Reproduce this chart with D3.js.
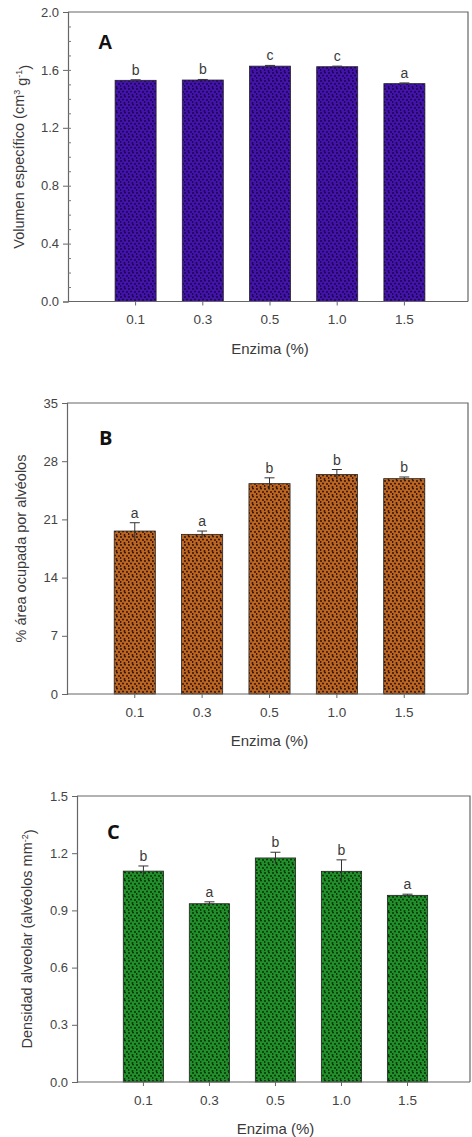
<!DOCTYPE html>
<html>
<head>
<meta charset="utf-8">
<script src="https://cdn.jsdelivr.net/npm/d3@7"></script>
<style>
  body { margin: 0; background: #fff; }
  text { font-family: "Liberation Sans", Arial, sans-serif; fill: #3a3a3a; }
</style>
</head>
<body>
<div id="chart"></div>
<script>
// Enzyme levels shared by all three panels
var enzimaLevels = ["0.1", "0.3", "0.5", "1.0", "1.5"];

// Panel A - specific volume
var volumenValues = [1.528, 1.530, 1.626, 1.622, 1.505];
var volumenErrors = [0.004, 0.004, 0.005, 0.004, 0.005];
var volumenLetters = ["b", "b", "c", "c", "a"];
var volumenTicks = [0.0, 0.4, 0.8, 1.2, 1.6, 2.0];

// Panel B - % area occupied by alveoli
var areaValues = [19.6, 19.2, 25.3, 26.4, 25.9];
var areaErrors = [1.0, 0.4, 0.7, 0.6, 0.2];
var areaLetters = ["a", "a", "b", "b", "b"];
var areaTicks = [0, 7, 14, 21, 28, 35];

// Panel C - alveolar density
var densidadValues = [1.106, 0.935, 1.175, 1.105, 0.979];
var densidadErrors = [0.027, 0.010, 0.030, 0.060, 0.006];
var densidadLetters = ["b", "a", "b", "b", "a"];
var densidadTicks = [0.0, 0.3, 0.6, 0.9, 1.2, 1.5];

var width = 472, height = 1137;

var svg = d3.select("#chart").append("svg")
  .attr("width", width)
  .attr("height", height);

var defs = svg.append("defs");

// stippled fill like the original SigmaPlot bars
function makePattern(id, base, dot) {
  var p = defs.append("pattern")
    .attr("id", id)
    .attr("patternUnits", "userSpaceOnUse")
    .attr("width", 8)
    .attr("height", 8);
  p.append("rect").attr("width", 8).attr("height", 8).attr("fill", base);
  var pts = [[1, 1], [5, 0.5], [3, 3.5], [7, 4], [0.5, 6], [4.5, 7]];
  pts.forEach(function (c) {
    p.append("circle").attr("cx", c[0]).attr("cy", c[1]).attr("r", 1).attr("fill", dot);
  });
}
makePattern("dotsA", "#4414aa", "#1a0552");
makePattern("dotsB", "#bd6622", "#301306");
makePattern("dotsC", "#22902a", "#063206");

function drawPanel(cfg) {
  var g = svg.append("g");
  var w = cfg.right - cfg.left;

  var x = d3.scaleBand()
    .domain(enzimaLevels)
    .range([cfg.left + 0.085 * w, cfg.left + 0.925 * w])
    .paddingInner(0.39)
    .paddingOuter(0.195);

  var y = d3.scaleLinear()
    .domain([cfg.ticks[0], cfg.ticks[cfg.ticks.length - 1]])
    .range([cfg.bottom, cfg.top]);

  var rows = enzimaLevels.map(function (k, i) {
    return { level: k, value: cfg.values[i], err: cfg.errors[i], letter: cfg.letters[i] };
  });

  // frame (top and right)
  g.append("path")
    .attr("d", "M" + cfg.left + "," + cfg.top + "H" + cfg.right + "V" + cfg.bottom)
    .attr("fill", "none")
    .attr("stroke", "#666")
    .attr("stroke-width", 1.2);

  // bars
  g.selectAll("rect.bar")
    .data(rows)
    .enter()
    .append("rect")
    .attr("class", "bar")
    .attr("x", function (d) { return x(d.level); })
    .attr("y", function (d) { return y(d.value); })
    .attr("width", x.bandwidth())
    .attr("height", function (d) { return y(0) - y(d.value); })
    .attr("fill", "url(#" + cfg.pattern + ")")
    .attr("stroke", "#222")
    .attr("stroke-width", 0.8);

  // error bars
  var eb = g.selectAll("g.err")
    .data(rows)
    .enter()
    .append("g")
    .attr("class", "err")
    .attr("stroke", "#333")
    .attr("stroke-width", 1);
  eb.append("line")
    .attr("x1", function (d) { return x(d.level) + x.bandwidth() / 2; })
    .attr("x2", function (d) { return x(d.level) + x.bandwidth() / 2; })
    .attr("y1", function (d) { return y(d.value - d.err); })
    .attr("y2", function (d) { return y(d.value + d.err); });
  eb.append("line")
    .attr("x1", function (d) { return x(d.level) + x.bandwidth() / 2 - 5; })
    .attr("x2", function (d) { return x(d.level) + x.bandwidth() / 2 + 5; })
    .attr("y1", function (d) { return y(d.value + d.err); })
    .attr("y2", function (d) { return y(d.value + d.err); });

  // significance letters
  g.selectAll("text.letter")
    .data(rows)
    .enter()
    .append("text")
    .attr("class", "letter")
    .attr("x", function (d) { return x(d.level) + x.bandwidth() / 2; })
    .attr("y", function (d) { return y(d.value + d.err) - 5; })
    .attr("text-anchor", "middle")
    .style("font-size", "14px")
    .text(function (d) { return d.letter; });

  // y axis
  var yAxis = g.append("g")
    .attr("transform", "translate(" + cfg.left + ",0)")
    .call(d3.axisLeft(y).tickValues(cfg.ticks).tickFormat(cfg.fmt).tickSize(5).tickPadding(4));
  yAxis.select(".domain").attr("stroke", "#666").attr("stroke-width", 1.2);
  yAxis.selectAll(".tick line").attr("stroke", "#666");
  yAxis.selectAll("text")
    .style("font-size", "13px")
    .style("fill", "#444")
    .style("font-family", "Liberation Sans, Arial, sans-serif");

  if (cfg.minor) {
    g.append("g")
      .attr("transform", "translate(" + cfg.left + ",0)")
      .call(d3.axisRight(y).tickValues(cfg.minor).tickFormat("").tickSize(3))
      .call(function (a) {
        a.select(".domain").remove();
        a.selectAll("line").attr("stroke", "#777");
      });
  }

  // x axis
  var xAxis = g.append("g")
    .attr("transform", "translate(0," + cfg.bottom + ")")
    .call(d3.axisBottom(x).tickSize(4).tickPadding(9));
  xAxis.select(".domain")
    .attr("d", "M" + cfg.left + ",0H" + cfg.right)
    .attr("stroke", "#666")
    .attr("stroke-width", 1.2);
  xAxis.selectAll(".tick line").attr("stroke", "#666");
  xAxis.selectAll("text")
    .style("font-size", "13.5px")
    .style("fill", "#444")
    .style("font-family", "Liberation Sans, Arial, sans-serif");

  // x title
  g.append("text")
    .attr("x", cfg.left + w * 0.505)
    .attr("y", cfg.bottom + 52)
    .attr("text-anchor", "middle")
    .style("font-size", "15px")
    .text("Enzima (%)");

  // y title
  var yt = g.append("text")
    .attr("transform", "translate(" + cfg.ytitleX + "," + ((cfg.top + cfg.bottom) / 2) + ") rotate(-90)")
    .attr("text-anchor", "middle")
    .style("font-size", "14.5px");
  cfg.ytitle.forEach(function (part) {
    var t = yt.append("tspan").text(part.t);
    if (part.sup) t.attr("dy", "-0.5em").style("font-size", "9px");
    if (part.down) t.attr("dy", "0.5em");
  });

  // panel letter
  g.append("text")
    .attr("x", cfg.left + cfg.labelDx)
    .attr("y", cfg.top + cfg.labelDy)
    .style("font-size", "20px")
    .style("font-weight", "bold")
    .style("font-family", cfg.labelFont)
    .style("fill", "#111")
    .text(cfg.label);
}

drawPanel({
  left: 68, right: 468, top: 12, bottom: 301.5,
  values: volumenValues, errors: volumenErrors, letters: volumenLetters,
  ticks: volumenTicks, fmt: d3.format(".1f"),
  minor: d3.range(1, 20).map(function (i) { return i / 10; }),
  pattern: "dotsA",
  ytitleX: 24,
  ytitle: [{ t: "Volumen específico (cm" }, { t: "3", sup: true }, { t: " g", down: true }, { t: "-1", sup: true }, { t: ")", down: true }],
  label: "A", labelDx: 30, labelDy: 37, labelFont: "Liberation Sans, Arial, sans-serif"
});

drawPanel({
  left: 67, right: 468, top: 403, bottom: 694,
  values: areaValues, errors: areaErrors, letters: areaLetters,
  ticks: areaTicks, fmt: d3.format("d"),
  minor: null,
  pattern: "dotsB",
  ytitleX: 26,
  ytitle: [{ t: "% área ocupada por alvéolos" }],
  label: "B", labelDx: 32, labelDy: 42, labelFont: "Open Sans, Lato, sans-serif"
});

drawPanel({
  left: 77, right: 470, top: 796, bottom: 1082,
  values: densidadValues, errors: densidadErrors, letters: densidadLetters,
  ticks: densidadTicks, fmt: d3.format(".1f"),
  minor: null,
  pattern: "dotsC",
  ytitleX: 32,
  ytitle: [{ t: "Densidad alveolar (alvéolos mm" }, { t: "-2", sup: true }, { t: ")", down: true }],
  label: "C", labelDx: 30, labelDy: 43, labelFont: "Open Sans, Lato, sans-serif"
});
</script>
</body>
</html>
